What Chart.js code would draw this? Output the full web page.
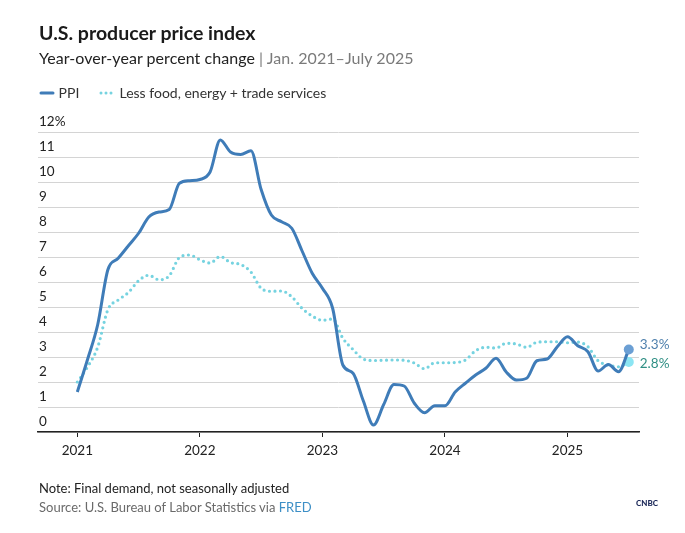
<!DOCTYPE html>
<html>
<head>
<meta charset="utf-8">
<title>U.S. producer price index</title>
<script src="https://cdn.jsdelivr.net/npm/chart.js@4.4.1/dist/chart.umd.min.js"></script>
<style>
  body { margin: 0; width: 685px; height: 533px; background: #fff; font-family: Lato, sans-serif; position: relative; overflow: hidden; }
  #chart { position: absolute; left: 0; top: 0; }
  .t { position: absolute; left: 39px; white-space: nowrap; color: #222; }
  #title { top: 21px; font-size: 19.5px; line-height: 24px; font-weight: bold; color: #1a1a1a; }
  #sub { top: 48px; font-size: 16px; line-height: 20px; letter-spacing: 0.05px; }
  #sub span { color: #7a7a7a; }
  #legend { top: 84px; font-size: 14px; line-height: 18px; color: #333; }
  #legend svg { vertical-align: middle; margin-top: -2px; }
  #note { top: 479px; font-size: 13px; line-height: 18px; }
  #source { top: 498px; font-size: 13px; line-height: 18px; color: #6a6a6a; }
  #source span { color: #3d8fc6; }
  #logo { position: absolute; left: 636px; top: 498px; font-size: 8px; font-weight: 900; color: #1d2a5a; }
</style>
</head>
<body>
<canvas id="chart" width="685" height="533"></canvas>
<div class="t" id="title">U.S. producer price index</div>
<div class="t" id="sub">Year-over-year percent change <span>| Jan. 2021–July 2025</span></div>
<div class="t" id="legend">
  <svg width="16" height="8"><line x1="2" y1="4" x2="14" y2="4" stroke="#3f7cb8" stroke-width="3" stroke-linecap="round"/></svg>
  PPI
  <svg width="18" height="8" style="margin-left:15px"><line x1="3" y1="4" x2="15" y2="4" stroke="#76d3e0" stroke-width="3" stroke-linecap="round" stroke-dasharray="0 5"/></svg>
  Less food, energy + trade services
</div>
<div class="t" id="note">Note: Final demand, not seasonally adjusted</div>
<div class="t" id="source">Source: U.S. Bureau of Labor Statistics via <span>FRED</span></div>
<div id="logo">CNBC</div>
<script>
  // months counted from Jan. 2021
  var yearLabels = ['2021', '2022', '2023', '2024', '2025'];
  var yearTicks = [0, 12, 24, 36, 48];

  // PPI final demand, y/y %
  var ppi = [
    1.6, 2.9, 4.3, 6.5, 6.95, 7.45, 7.95, 8.6, 8.8, 8.9, 9.95, 10.05,
    10.1, 10.4, 11.68, 11.2, 11.1, 11.25, 9.7, 8.68, 8.41, 8.15, 7.25, 6.35,
    5.75, 4.95, 2.68, 2.35, 1.25, 0.28, 1.1, 1.9, 1.84, 1.15, 0.77, 1.05,
    1.05, 1.6, 1.95, 2.28, 2.55, 2.95, 2.4, 2.08, 2.15, 2.85, 2.92, 3.41,
    3.81, 3.45, 3.21, 2.44, 2.7, 2.41, 3.3
  ];

  // less food, energy + trade services, y/y %
  var core = [
    2.0, 2.6, 3.4, 4.9, 5.28, 5.58, 6.05, 6.27, 6.09, 6.25, 6.98, 7.08,
    6.89, 6.76, 7.02, 6.78, 6.7, 6.4, 5.75, 5.63, 5.64, 5.41, 4.95, 4.64,
    4.47, 4.52, 3.75, 3.3, 2.92, 2.86, 2.87, 2.88, 2.87, 2.76, 2.53, 2.77,
    2.77, 2.78, 2.88, 3.25, 3.39, 3.36, 3.55, 3.52, 3.39, 3.59, 3.61, 3.61,
    3.57, 3.6, 3.41, 2.85, 2.68, 2.61, 2.8
  ];

  var endLabels = ['3.3%', '2.8%'];
  var last = ppi.length - 1;

  function pts(arr) {
    return arr.map(function (v, i) { return { x: i, y: v }; });
  }

  var endLabelPlugin = {
    id: 'endLabels',
    afterDatasetsDraw: function (chart) {
      var ctx = chart.ctx;
      var cfg = [
        { color: '#4f80ad', dy: -5 },
        { color: '#2f8f84', dy: 2 }
      ];
      ctx.save();
      ctx.font = '13.5px Lato';
      ctx.textBaseline = 'middle';
      ctx.textAlign = 'left';
      chart.data.datasets.forEach(function (ds, i) {
        var el = chart.getDatasetMeta(i).data[last];
        ctx.fillStyle = cfg[i].color;
        ctx.fillText(endLabels[i], el.x + 11, el.y + cfg[i].dy);
      });
      ctx.restore();
    }
  };

  Chart.defaults.font.family = 'Lato';

  var chart = new Chart(document.getElementById('chart'), {
    type: 'line',
    data: {
      datasets: [{
        label: 'PPI',
        data: pts(ppi),
        borderColor: '#3f7cb8',
        borderWidth: 3,
        cubicInterpolationMode: 'monotone',
        pointRadius: function (c) { return c.dataIndex === last ? 5 : 0; },
        pointBackgroundColor: '#6b9fd4',
        pointBorderWidth: 0
      }, {
        label: 'Less food, energy + trade services',
        data: pts(core),
        borderColor: '#76d3e0',
        borderWidth: 3.2,
        borderDash: [0, 5.5],
        borderCapStyle: 'round',
        cubicInterpolationMode: 'monotone',
        pointRadius: function (c) { return c.dataIndex === last ? 5 : 0; },
        pointBackgroundColor: '#8ce5f3',
        pointBorderWidth: 0
      }]
    },
    options: {
      responsive: false,
      animation: false,
      layout: { padding: { left: 38, right: 46, top: 132, bottom: 71 } },
      plugins: { legend: { display: false }, tooltip: { enabled: false } },
      scales: {
        x: {
          type: 'linear',
          min: -3.85,
          max: 55,
          afterBuildTicks: function (s) {
            s.ticks = yearTicks.map(function (v) { return { value: v }; });
          },
          afterFit: function (s) { s.height = 30; },
          ticks: {
            callback: function (v, i) { return yearLabels[i]; },
            color: '#222',
            font: { size: 13.5 },
            padding: 6,
            maxRotation: 0,
            autoSkip: false
          },
          grid: { drawOnChartArea: false, drawTicks: true, tickLength: 5, color: '#222', lineWidth: 1 },
          border: { display: true, color: '#222', width: 1.5 }
        },
        y: {
          min: 0,
          max: 12,
          afterFit: function (s) { s.width = 0; },
          ticks: {
            stepSize: 1,
            mirror: true,
            padding: 1,
            labelOffset: -10,
            color: '#222',
            font: { size: 13.5 },
            callback: function (v) { return v === 12 ? '12%' : v; }
          },
          grid: { color: '#d4d4d4', lineWidth: 1, drawTicks: false },
          border: { display: false }
        }
      }
    },
    plugins: [endLabelPlugin]
  });
</script>
</body>
</html>
